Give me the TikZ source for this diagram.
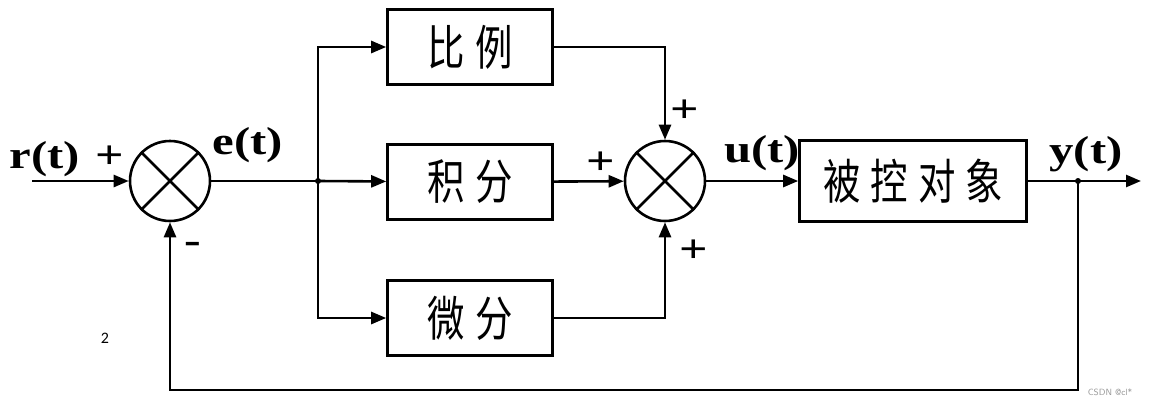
\documentclass[tikz,border=0pt]{standalone}
\usepackage{fontspec}
\setmainfont{Liberation Serif}
\newfontfamily\cjk[FakeStretch=0.78]{Noto Sans CJK SC}
\newfontfamily\lblfont[FakeStretch=1.25]{Liberation Serif}
\newfontfamily\numfont{Carlito}
\usetikzlibrary{arrows.meta}
\newcommand{\cgap}{\hspace{10pt}}

\begin{document}
\begin{tikzpicture}[x=1pt,y=-1pt,line width=2.6pt,
	sumnode/.style={shape=circle,draw=black,minimum size=80pt,inner sep=0pt},
	blockbox/.style={draw=black,minimum width=165pt,minimum height=75pt,inner sep=0pt,font=\cjk\fontsize{48}{48}\selectfont},
	sig/.style={font=\lblfont\bfseries\fontsize{39}{39}\selectfont},
	sgn/.style={font=\lblfont\bfseries\fontsize{40}{40}\selectfont},
	>={Triangle[length=15pt,width=12pt]}]
	
	\useasboundingbox (0,0) rectangle (1149,407);
	
	% summing points
	\node[sumnode] (s1) at (170,181) {};
	\node[sumnode] (s2) at (665,181) {};
	\draw (s1.north west) -- (s1.south east) (s1.north east) -- (s1.south west);
	\draw (s2.north west) -- (s2.south east) (s2.north east) -- (s2.south west);
	
	% blocks
	\node[blockbox] (kp) at (470,47)  {比\cgap 例};
	\node[blockbox] (ki) at (470,182) {积\cgap 分};
	\node[blockbox] (kd) at (470,318) {微\cgap 分};
	\node[blockbox,minimum width=227pt,minimum height=81pt] (plant) at (913,181) {被\cgap 控\cgap 对\cgap 象};
	
	\coordinate (in) at (32,181);
	\coordinate (b1) at (318,181);
	\coordinate (b2) at (1078,181);
	\coordinate (out) at (1141,181);
	\coordinate (fb) at (1078,390);
	
	\draw[->] (in) -- (s1);
	\draw (s1) -- (b1);
	\fill (b1) circle (3pt);
	\draw[->] (b1) |- (kp);
	\draw[->] (b1) -- (ki);
	\draw[->] (b1) |- (kd);
	\draw[->] (kp) -| (s2);
	\draw[->] (ki) -- (s2);
	\draw[->] (kd) -| (s2);
	\draw[->] (s2) -- (plant);
	\draw[->] (plant) -- (out);
	\fill (b2) circle (3pt);
	\draw[->] (b2) -- (fb) -| (s1);
	
	% labels
	\node[sig] (rt) at (45,159) {r(t)};
	\node[sig] (et) at (248,145) {e(t)};
	\node[sig] (ut) at (762,153) {u(t)};
	\node[sig] (yt) at (1086,154) {y(t)};
	\node[sgn] (p1) at (110,157) {+};
	\node[sgn] (m1) at (193,248) {-};
	\node[sgn] (p2) at (685,111) {+};
	\node[sgn] (p3) at (601,163) {+};
	\node[sgn] (p4) at (694,251) {+};
	\node[font=\numfont\fontsize{16}{16}\selectfont] (pg) at (105,338) {2};
	\node[font=\sffamily\fontsize{9}{9}\selectfont,text=black!40] (wm) at (1110,392) {CSDN @cl*};
	
\end{tikzpicture}
\end{document}
